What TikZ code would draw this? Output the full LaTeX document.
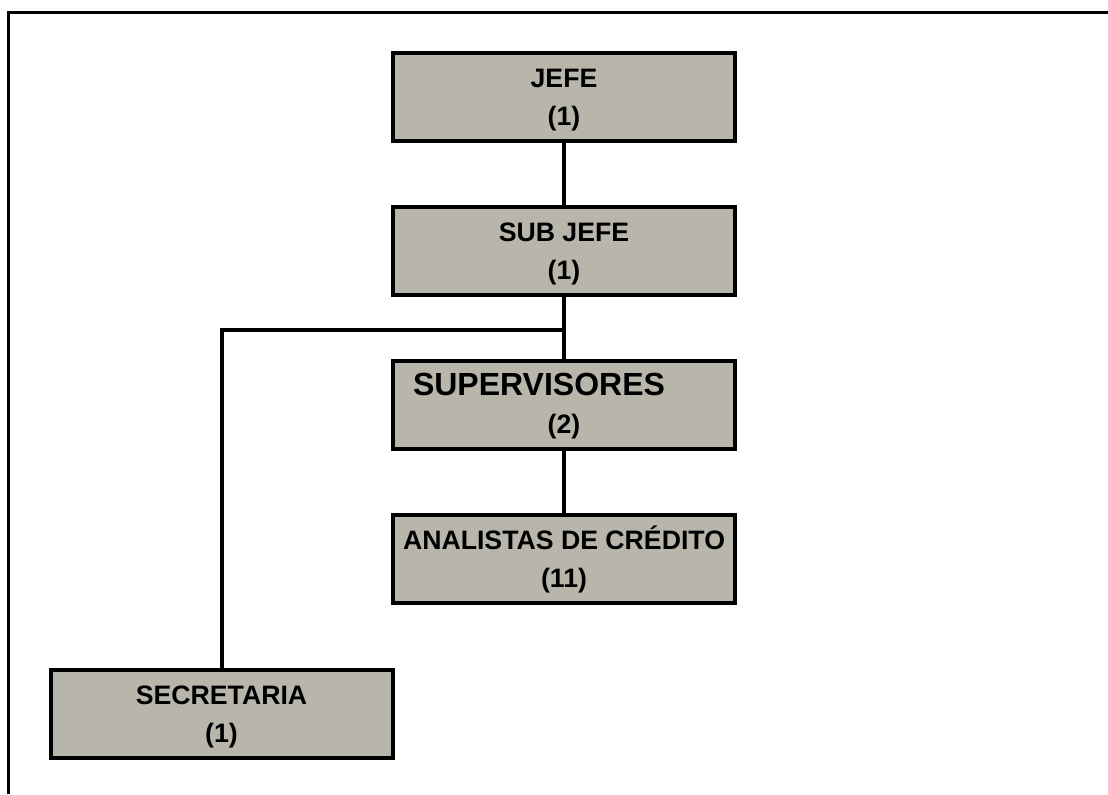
\documentclass[tikz,border=0pt]{standalone}
\usepackage{fontspec}
\setmainfont{Liberation Sans}
\definecolor{boxfill}{RGB}{184,182,170}
% strut that fixes the height of the first text line in every box
\newcommand{\firstline}{\rule{0pt}{18.5pt}}
\begin{document}
\begin{tikzpicture}[x=0.75pt,y=-0.75pt,
  orgbox/.style={draw=black, line width=3pt, fill=boxfill, rectangle,
    minimum width=256.5pt, minimum height=66pt, inner sep=0pt,
    align=center, font=\fontsize{20pt}{28.5pt}\selectfont\bfseries},
  link/.style={draw=black, line width=3pt}]
\useasboundingbox (0,0) rectangle (1108,794);
% outer frame (top and left sides only)
\draw[line width=2.25pt] (8,794) -- (8,12) -- (1108,12);
% boxes
\node[orgbox] (jefe) at (564,97) {\firstline JEFE\\(1)};
\node[orgbox] (subjefe) at (564,251) {\firstline SUB JEFE\\(1)};
\node[orgbox] (superv) at (564,405)
  {\firstline{\fontsize{24pt}{28.5pt}\selectfont\bfseries SUPERVISORES}\hspace*{37.5pt}\\(2)};
\node[orgbox] (analistas) at (564,559) {\firstline ANALISTAS DE CRÉDITO\\(11)};
\node[orgbox] (secretaria) at (221.5,713.5) {\firstline SECRETARIA\\(1)};
\coordinate (branch) at (564,330);
% connectors
\draw[link] (jefe.south) -- (subjefe.north);
\draw[link] (subjefe.south) -- (superv.north);
\draw[link] (superv.south) -- (analistas.north);
\draw[link] (branch) -| (secretaria.north);
\end{tikzpicture}
\end{document}
